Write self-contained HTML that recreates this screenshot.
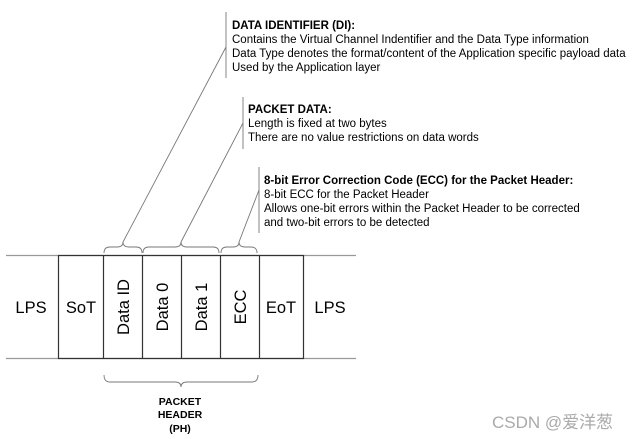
<!DOCTYPE html>
<html><head><meta charset="utf-8"><style>
html,body{margin:0;padding:0;background:#fff;}
svg{display:block;}
text{font-family:"Liberation Sans",Arial,sans-serif;fill:#000;}
</style></head><body>
<svg width="639" height="439" viewBox="0 0 639 439" xmlns="http://www.w3.org/2000/svg">
<g stroke="#999" stroke-width="1.2" fill="none">
<line x1="6" y1="255.5" x2="356" y2="255.5"/>
<line x1="6" y1="358.5" x2="356" y2="358.5"/>
</g>
<g stroke="#333" stroke-width="1.2" fill="none">
<rect x="58.5" y="255.5" width="245" height="103"/>
<line x1="103.5" y1="255.5" x2="103.5" y2="358.5"/>
<line x1="142.5" y1="255.5" x2="142.5" y2="358.5"/>
<line x1="181.5" y1="255.5" x2="181.5" y2="358.5"/>
<line x1="220.5" y1="255.5" x2="220.5" y2="358.5"/>
<line x1="259.5" y1="255.5" x2="259.5" y2="358.5"/>
</g>
<g stroke="#777" stroke-width="0.9" fill="none">
<path d="M104,253 q0,-6 6,-6 h7 q6,0 6,-5 q0,5 6,5 h7 q6,0 6,6"/>
<path d="M143,253 q0,-6 6,-6 h26 q6,0 6,-5 q0,5 6,5 h26 q6,0 6,6"/>
<path d="M221,253 q0,-6 6,-6 h6 q6,0 6,-5 q0,5 6,5 h6 q6,0 6,6"/>
<path d="M104,375 q0,7 6,7 h65 q6,0 6,5 q0,-5 6,-5 h65 q6,0 6,-7"/>
<line x1="123" y1="242" x2="226" y2="47"/>
<line x1="181" y1="242" x2="243" y2="123"/>
<line x1="239" y1="242" x2="259" y2="190"/>
<line x1="226" y1="12" x2="226" y2="78"/>
<line x1="243" y1="97" x2="243" y2="149"/>
<line x1="259" y1="167" x2="259" y2="233"/>
</g>
<g font-size="16.5">
<text x="31" y="313" text-anchor="middle">LPS</text>
<text x="81" y="313" text-anchor="middle">SoT</text>
<text x="281" y="313" text-anchor="middle">EoT</text>
<text x="330" y="313" text-anchor="middle">LPS</text>
<text transform="translate(129,307) rotate(-90)" text-anchor="middle">Data ID</text>
<text transform="translate(168,307) rotate(-90)" text-anchor="middle">Data 0</text>
<text transform="translate(207,307) rotate(-90)" text-anchor="middle">Data 1</text>
<text transform="translate(246,307) rotate(-90)" text-anchor="middle">ECC</text>
</g>
<g font-size="11.5">
<text x="232" y="29" font-weight="bold">DATA IDENTIFIER (DI):</text>
<text x="232" y="43">Contains the Virtual Channel Indentifier and the Data Type information</text>
<text x="232" y="57">Data Type denotes the format/content of the Application specific payload data</text>
<text x="232" y="71">Used by the Application layer</text>
<text x="248" y="113" font-weight="bold">PACKET DATA:</text>
<text x="248" y="127">Length is fixed at two bytes</text>
<text x="248" y="141">There are no value restrictions on data words</text>
<text x="264" y="184" font-weight="bold">8-bit Error Correction Code (ECC) for the Packet Header:</text>
<text x="264" y="198">8-bit ECC for the Packet Header</text>
<text x="264" y="212">Allows one-bit errors within the Packet Header to be corrected</text>
<text x="264" y="226">and two-bit errors to be detected</text>
</g>
<g font-size="10.5" font-weight="bold" text-anchor="middle">
<text x="180" y="405">PACKET</text>
<text x="180" y="418">HEADER</text>
<text x="180" y="432">(PH)</text>
</g>
<text x="492" y="428" font-size="17" style="fill:#aaa;font-family:'Liberation Sans','Noto Sans CJK SC',sans-serif">CSDN @爱洋葱</text>
</svg>
</body></html>
